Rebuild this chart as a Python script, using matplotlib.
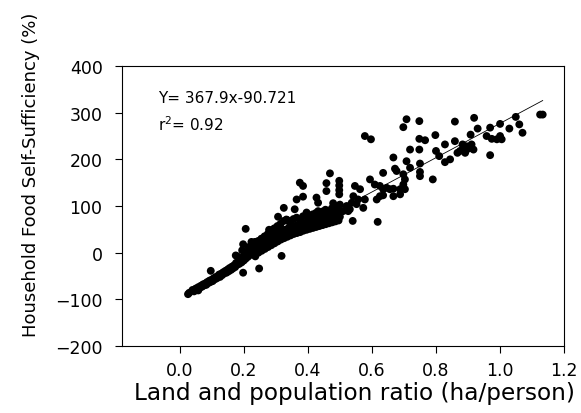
import matplotlib
matplotlib.use('Agg')
import matplotlib.pyplot as plt

plt.rcParams['font.family'] = ['DejaVu Sans']

# fitted line from the paper
slope = 367.9
intercept = -90.721
r2 = 0.92

# (land/pop ratio, self-sufficiency %)
band = [(0.030, -86), (0.040, -80), (0.045, -83), (0.050, -77), (0.055, -79), (0.058, -74),
        (0.062, -76), (0.066, -71), (0.070, -73), (0.073, -68), (0.077, -70), (0.080, -66),
        (0.083, -69), (0.086, -63), (0.090, -65), (0.093, -60), (0.096, -63), (0.100, -58),
        (0.103, -61), (0.106, -55), (0.110, -57), (0.113, -52), (0.116, -55), (0.120, -50),
        (0.123, -47), (0.126, -52), (0.130, -45), (0.133, -48), (0.136, -42), (0.140, -44),
        (0.143, -39), (0.146, -43), (0.150, -36), (0.153, -40), (0.156, -33), (0.160, -37),
        (0.163, -30), (0.166, -34), (0.170, -27), (0.173, -31), (0.176, -22), (0.180, -26),
        (0.183, -19), (0.186, -24), (0.190, -15), (0.193, -21), (0.196, -10), (0.200, -17),
        (0.203, -7), (0.206, -13), (0.210, -3), (0.213, -9), (0.216, 2), (0.220, -5),
        (0.223, 6), (0.226, -1), (0.230, 10), (0.233, 3), (0.236, -8), (0.240, 7),
        (0.243, 14), (0.246, 0), (0.250, 11), (0.253, 18), (0.256, 4), (0.260, 15),
        (0.263, 22), (0.266, 8), (0.270, 19), (0.273, 27), (0.276, 12), (0.280, 23),
        (0.283, 31), (0.286, 16), (0.290, 26), (0.293, 35), (0.296, 20), (0.300, 30),
        (0.303, 39), (0.306, 24), (0.310, 33), (0.313, 43), (0.316, 28), (0.320, 37),
        (0.323, 47), (0.326, 31), (0.330, 40), (0.333, 50), (0.336, 34), (0.340, 43),
        (0.343, 53), (0.346, 37), (0.350, 46), (0.353, 55), (0.356, 40), (0.360, 48),
        (0.363, 58), (0.366, 42), (0.370, 51), (0.373, 60), (0.376, 44), (0.380, 53),
        (0.383, 62), (0.386, 47), (0.390, 55), (0.393, 64), (0.396, 49), (0.400, 57),
        (0.403, 66), (0.406, 51), (0.410, 59), (0.413, 68), (0.416, 53), (0.420, 61),
        (0.423, 70), (0.426, 55), (0.430, 63), (0.433, 72), (0.436, 57), (0.440, 65),
        (0.443, 74), (0.446, 59), (0.450, 67), (0.453, 76), (0.456, 61), (0.460, 69),
        (0.463, 78), (0.466, 63), (0.470, 71), (0.473, 80), (0.476, 65), (0.480, 73),
        (0.483, 82), (0.486, 67), (0.490, 75), (0.493, 84), (0.496, 69), (0.500, 77)]

band_top = [(0.180, -8), (0.195, 5), (0.205, 0), (0.215, 12), (0.225, 18), (0.235, 23),
            (0.245, 25), (0.255, 30), (0.265, 35), (0.275, 40), (0.285, 48), (0.295, 52),
            (0.305, 57), (0.315, 62), (0.325, 68), (0.335, 70), (0.345, 65), (0.355, 72),
            (0.365, 75), (0.375, 70), (0.385, 78), (0.395, 80), (0.405, 76), (0.415, 82),
            (0.425, 85), (0.435, 80), (0.445, 88), (0.455, 92), (0.465, 86), (0.475, 95),
            (0.485, 98), (0.495, 90), (0.500, 103)]

low_spread = [(0.026, -89), (0.052, -79), (0.058, -81), (0.097, -39), (0.175, -6),
              (0.198, -43), (0.248, -34), (0.206, 51), (0.198, 18), (0.224, 23),
              (0.248, 23), (0.279, 49), (0.318, -7), (0.325, 96), (0.359, 93),
              (0.307, 77), (0.333, 71), (0.344, 57), (0.318, 50), (0.365, 114),
              (0.385, 120), (0.375, 150), (0.385, 143), (0.427, 118), (0.432, 107),
              (0.469, 170), (0.458, 149), (0.458, 132), (0.498, 154), (0.498, 144),
              (0.498, 134), (0.498, 125), (0.479, 106), (0.490, 96), (0.469, 86),
              (0.432, 89), (0.417, 79), (0.396, 86)]

mid_spread = [(0.510, 89), (0.521, 100), (0.526, 89), (0.531, 93), (0.537, 107), (0.540, 68),
              (0.542, 121), (0.547, 143), (0.552, 104), (0.557, 114), (0.563, 136),
              (0.573, 96), (0.578, 114), (0.578, 250), (0.594, 157), (0.597, 243),
              (0.609, 146), (0.615, 114), (0.618, 66), (0.625, 121), (0.625, 143),
              (0.635, 123), (0.635, 136), (0.635, 171), (0.646, 139), (0.656, 136),
              (0.667, 121), (0.667, 137), (0.667, 204), (0.672, 180), (0.677, 175),
              (0.688, 125), (0.688, 136), (0.698, 146), (0.698, 168), (0.698, 269),
              (0.703, 136), (0.703, 157), (0.708, 196), (0.708, 286), (0.719, 182),
              (0.719, 221), (0.748, 221), (0.748, 244), (0.748, 282), (0.750, 164),
              (0.750, 173), (0.750, 191), (0.766, 241), (0.790, 157)]

high_spread = [(0.798, 252), (0.800, 218), (0.810, 207), (0.828, 194), (0.828, 232),
               (0.844, 200), (0.859, 239), (0.859, 281), (0.867, 214), (0.875, 218),
               (0.883, 232), (0.885, 225), (0.891, 214), (0.896, 228), (0.901, 223),
               (0.908, 253), (0.911, 232), (0.917, 221), (0.919, 289), (0.930, 266),
               (0.958, 250), (0.969, 209), (0.969, 268), (0.974, 244), (0.990, 243),
               (1.000, 250), (1.000, 276), (1.005, 243), (1.029, 266), (1.049, 291),
               (1.060, 275), (1.070, 257), (1.125, 296), (1.133, 296)]

points = band + band_top + low_spread + mid_spread + high_spread
ratio = [p[0] for p in points]
hfss = [p[1] for p in points]

fig = plt.figure(figsize=(5.81, 4.14), dpi=100)
ax = fig.add_axes([0.210, 0.162, 0.761, 0.676])

ax.scatter(ratio, hfss, s=32, color='black', edgecolors='none', zorder=3)

xfit = [min(ratio), max(ratio)]
yfit = [slope * v + intercept for v in xfit]
ax.plot(xfit, yfit, color='black', linewidth=0.6, zorder=2)

ax.set_xlim(-0.18, 1.2)
ax.set_ylim(-200, 400)
ax.set_xticks([0.0, 0.2, 0.4, 0.6, 0.8, 1.0, 1.2])
ax.set_xticklabels(['0.0', '0.2', '0.4', '0.6', '0.8', '1.0', '1.2'])
ax.set_yticks([-200, -100, 0, 100, 200, 300, 400])
ax.tick_params(direction='out', length=5, width=0.8, labelsize=12.5, top=False, right=False)
ax.tick_params(axis='y', pad=9)
ax.tick_params(axis='x', pad=6)
for sp in ax.spines.values():
    sp.set_linewidth(0.8)

ax.text(-0.069, 322, 'Y= %.1fx%.3f' % (slope, intercept), fontsize=11)
ax.text(-0.069, 264, 'r$^2$= %.2f' % r2, fontsize=11)

ax.set_xlabel('Land and population ratio (ha/person)', fontsize=16.7)
ax.set_ylabel('Household Food Self-Sufficiency (%)', fontsize=13)
ax.xaxis.set_label_coords(0.526, -0.125)
ax.yaxis.set_label_coords(-0.186, 0.614)

plt.savefig('out.png', dpi=100)
